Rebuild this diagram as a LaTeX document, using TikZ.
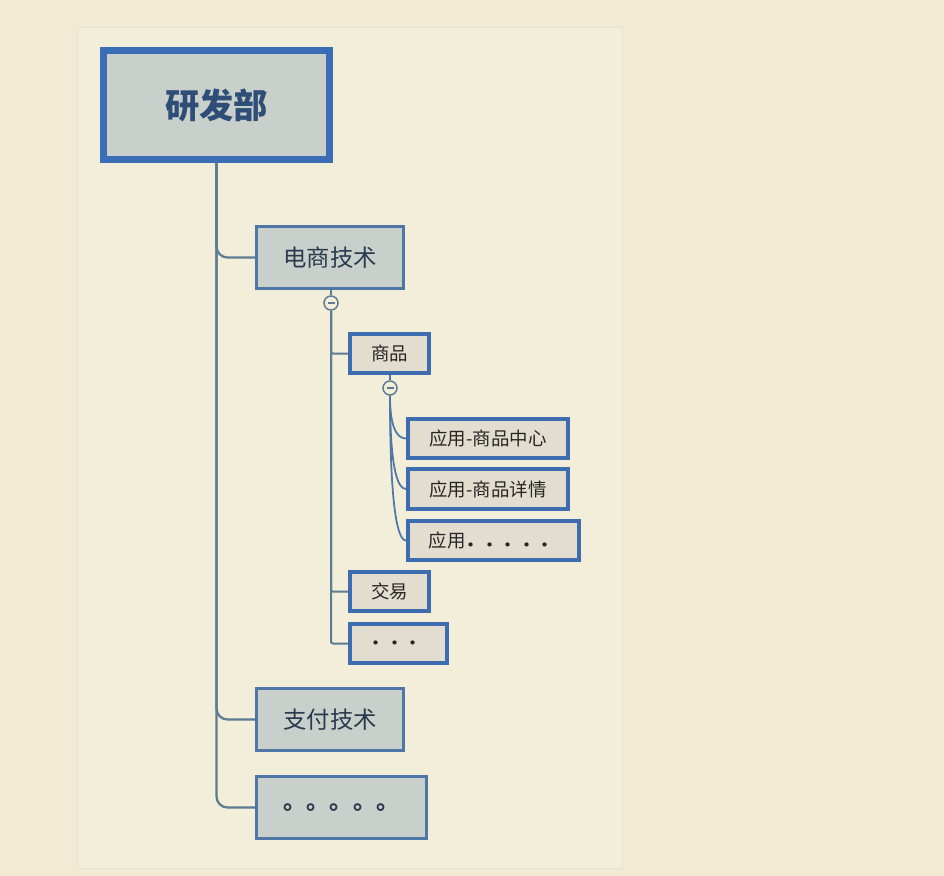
\documentclass[tikz,border=0pt]{standalone}
\usepackage{fontspec}
\setmainfont{Noto Sans CJK SC}
\usetikzlibrary{positioning,calc}
\definecolor{paper}{HTML}{F1EBD4}
\definecolor{panel}{HTML}{F3EEDA}
\definecolor{panelrule}{HTML}{E9E3CB}
\definecolor{rootblue}{HTML}{3A6DB5}
\definecolor{midblue}{HTML}{4E77A8}
\definecolor{leafblue}{HTML}{3D6CB1}
\definecolor{greyfill}{HTML}{C9CFCB}
\definecolor{sandfill}{HTML}{E2DDCF}
\definecolor{linkgrey}{HTML}{5C7C93}
\definecolor{roottext}{HTML}{2E4E78}
\definecolor{midtext}{HTML}{2A3A4E}

\begin{document}
\begin{tikzpicture}[x=0.02cm, y=-0.02cm,
  box/.style={rectangle, inner sep=0pt, align=center},
  rootbox/.style={box, draw=rootblue, line width=0.14cm, fill=greyfill, text=roottext,
    minimum width=4.52cm, minimum height=2.18cm, font=\fontsize{19.5}{22}\selectfont\bfseries},
  deptbox/.style={box, draw=midblue, line width=0.06cm, fill=greyfill, text=midtext,
    minimum height=1.24cm, font=\fontsize{13.3}{15}\selectfont},
  teambox/.style={box, draw=leafblue, line width=0.08cm, fill=sandfill, text=black!85,
    minimum height=0.78cm, font=\fontsize{10.5}{12}\selectfont},
  toggle/.style={circle, draw=linkgrey, line width=0.03cm, fill=panel, minimum size=0.28cm, inner sep=0pt},
  trunk/.style={draw=linkgrey, line width=0.045cm, rounded corners=0.22cm},
  branch/.style={draw=linkgrey, line width=0.04cm, rounded corners=0.04cm},
  twig/.style={draw=midblue, line width=0.035cm}]

% page and panel
\useasboundingbox[fill=paper] (0,0) rectangle (944,876);
\draw[panelrule, fill=panel, line width=0.02cm] (77,27) rectangle (622,868);

% boxes
\node[rootbox] (root) at (216.5,105) {研发部};
\node[deptbox, minimum width=2.94cm] (ecom) at (330,257.5) {电商技术};
\node[deptbox, minimum width=2.94cm] (pay) at (330,719.5) {支付技术};
\node[deptbox, minimum width=3.40cm] (deptmore) at (341.5,807.5) {\bfseries 。。。。。};

\node[teambox, minimum width=1.58cm] (goods) at (389.5,353.5) {商品};
\node[teambox, minimum width=1.58cm] (trade) at (389.5,591.5) {交易};
\node[teambox, minimum width=1.94cm] (teammore) at (398.5,643.5) {\bfseries ．．．};

\node[teambox, minimum width=3.20cm] (appcenter) at (488,438.5) {应用-商品中心};
\node[teambox, minimum width=3.20cm, minimum height=0.80cm] (appdetail) at (488,489) {应用-商品详情};
\node[teambox, minimum width=3.42cm] (appmore) at (493.5,540.5) {应用{\bfseries ．．．．．}};

% toggles
\node[toggle] (ecomtoggle) at (331,303) {};
\node[toggle] (goodstoggle) at (390,388) {};
\foreach \t in {ecomtoggle, goodstoggle}
  \draw[linkgrey, line width=0.03cm] ([xshift=-0.07cm]\t.center) -- ([xshift=0.07cm]\t.center);

% connectors from root
\draw[trunk] (root.south) |- (ecom.west);
\draw[trunk] (root.south) |- (pay.west);
\draw[trunk] (root.south) |- (deptmore.west);

% connectors under ecom
\draw[branch] (ecom.south -| ecomtoggle) -- (ecomtoggle.north);
\draw[branch] (ecomtoggle.south) |- (goods.west);
\draw[branch] (ecomtoggle.south) |- (trade.west);
\draw[branch] (ecomtoggle.south) |- (teammore.west);

% connectors under goods
\draw[twig] (goods.south -| goodstoggle) -- (goodstoggle.north);
\foreach \a in {appcenter, appdetail, appmore}
  \draw[twig] (goodstoggle.south)
    .. controls ($(goodstoggle.south)!0.75!(goodstoggle.south |- \a.west)$)
    and ([xshift=-0.18cm]\a.west) .. (\a.west);
\end{tikzpicture}
\end{document}
